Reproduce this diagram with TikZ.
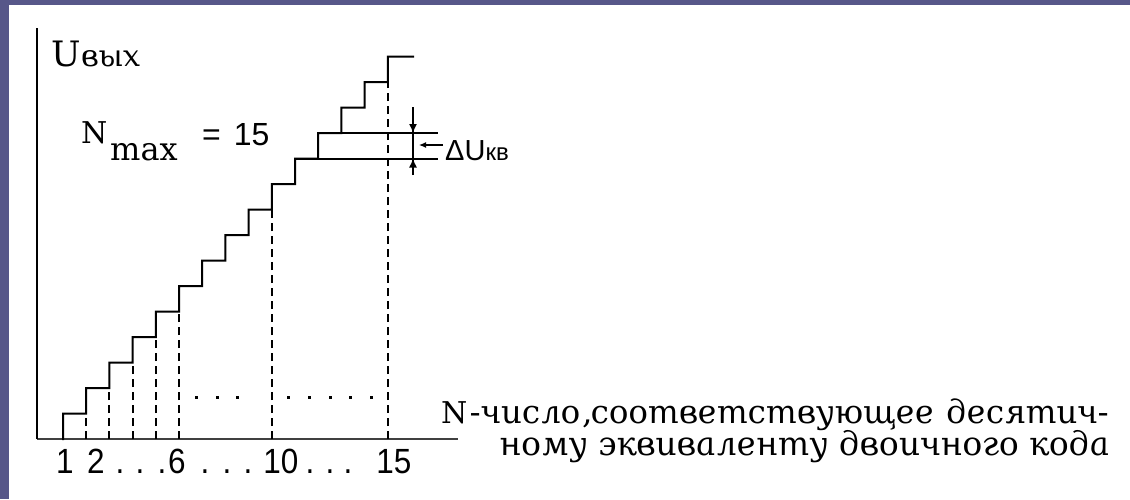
\documentclass[tikz,border=0pt]{standalone}
\usepackage{fontspec}
\setmainfont{Liberation Sans}
\newfontfamily\serf{DejaVu Serif}
\newfontfamily\cyr{DejaVu Serif Italic}[FakeSlant=-0.19]
\newfontfamily\digf{Liberation Sans}[FakeStretch=0.9]
\usetikzlibrary{arrows.meta}
\definecolor{framecol}{RGB}{87,87,137}
\begin{document}
\begin{tikzpicture}[x=1pt,y=-1pt,
  stair/.style={line width=2pt, line join=miter, line cap=rect},
  dashv/.style={line width=2pt, dash pattern=on 8pt off 5pt},
  lbl/.style={inner sep=0pt, anchor=base west},
  dig/.style={inner sep=0pt, anchor=base, font=\digf\fontsize{35}{35}\selectfont},
  tip/.style={-{Latex[length=9pt,width=8pt]}, line width=1.5pt},
]
\useasboundingbox (0,0) rectangle (1130,499);
\fill[framecol] (0,0) rectangle (1130,499);
\fill[white] (9,5) rectangle (1130,499);

% axes
\coordinate (O) at (37,439);
\coordinate (Ytop) at (37,28);
\coordinate (Xend) at (458,439);
\draw[line width=2.6pt, black!75] (O) -- (Xend);
\draw[line width=2pt] (Ytop) -- (O);

% staircase
\draw[stair] (63,439)
  \foreach \i in {1,...,14} { -- ({63+(\i-1)*23.2},{439-25.5*\i}) -- ({63+\i*23.2},{439-25.5*\i}) }
  -- (387.8,56.5) -- (413,56.5);
\draw[stair] (295,158.5) -- (437,158.5);
\draw[stair] (318.2,133) -- (437,133);

% dashed verticals
\foreach \i in {2,3,4,5,6,10,15}
  \draw[dashv] ({63+(\i-1)*23.2},439) -- ({63+(\i-1)*23.2},{439-25.5*(\i-1)});

% dotted fillers
\foreach \x in {196,217,237,288,309,330,350,371}
  \fill (\x-1.5,395.5) rectangle ++(3,3);

% quantum step arrows
\coordinate (Qt) at (413,107);
\coordinate (Qb) at (413,175);
\draw[line width=1.5pt] (Qt) -- (Qb);
\draw[tip] (Qt) -- (413,133);
\draw[tip] (Qb) -- (413,158.5);
\coordinate (Sa) at (443,145);
\coordinate (Sb) at (419,145);
\draw[-{Latex[length=7pt,width=6pt]}, line width=1.2pt] (Sa) -- (Sb);
\node[lbl] (dU) at (445,160) {\fontsize{29}{29}\selectfont ΔU\fontsize{24}{24}\selectfont кв};

% labels
\node[lbl] (Uout) at (51,66) {\serf\fontsize{35}{35}\selectfont U\hspace{2pt}\cyr\fontsize{30}{30}\selectfont вых};
\node[lbl] (Nn) at (81,143) {\serf\fontsize{30}{30}\selectfont N};
\node[lbl] (Nsub) at (110,160) {\serf\fontsize{32}{32}\selectfont max};
\node[lbl] (Neq) at (202,145) {\fontsize{32}{32}\selectfont =\hspace{13pt}15};

% tick numbers
\node[dig] (n1) at (65,473) {1};
\node[dig] (n2) at (96,473) {2};
\node[dig] (n6) at (177,473) {6};
\node[dig] (n10) at (281,473) {10};
\node[dig] (n15) at (394,473) {15};
\foreach \x [count=\k] in {120,140,162,205,227,248,310,330,348}
  \node[dig] (d\k) at (\x,473) {.};

% caption
\node[lbl] (cap1) at (441,423) {\serf\fontsize{30}{30}\selectfont N\hspace{4pt}\cyr\fontsize{32.5}{32.5}\selectfont -число,соответствующее\hspace{12pt}десятич-};
\node[lbl] (cap2) at (501,455) {\cyr\fontsize{33}{33}\selectfont ному эквиваленту двоичного кода};
\end{tikzpicture}
\end{document}
